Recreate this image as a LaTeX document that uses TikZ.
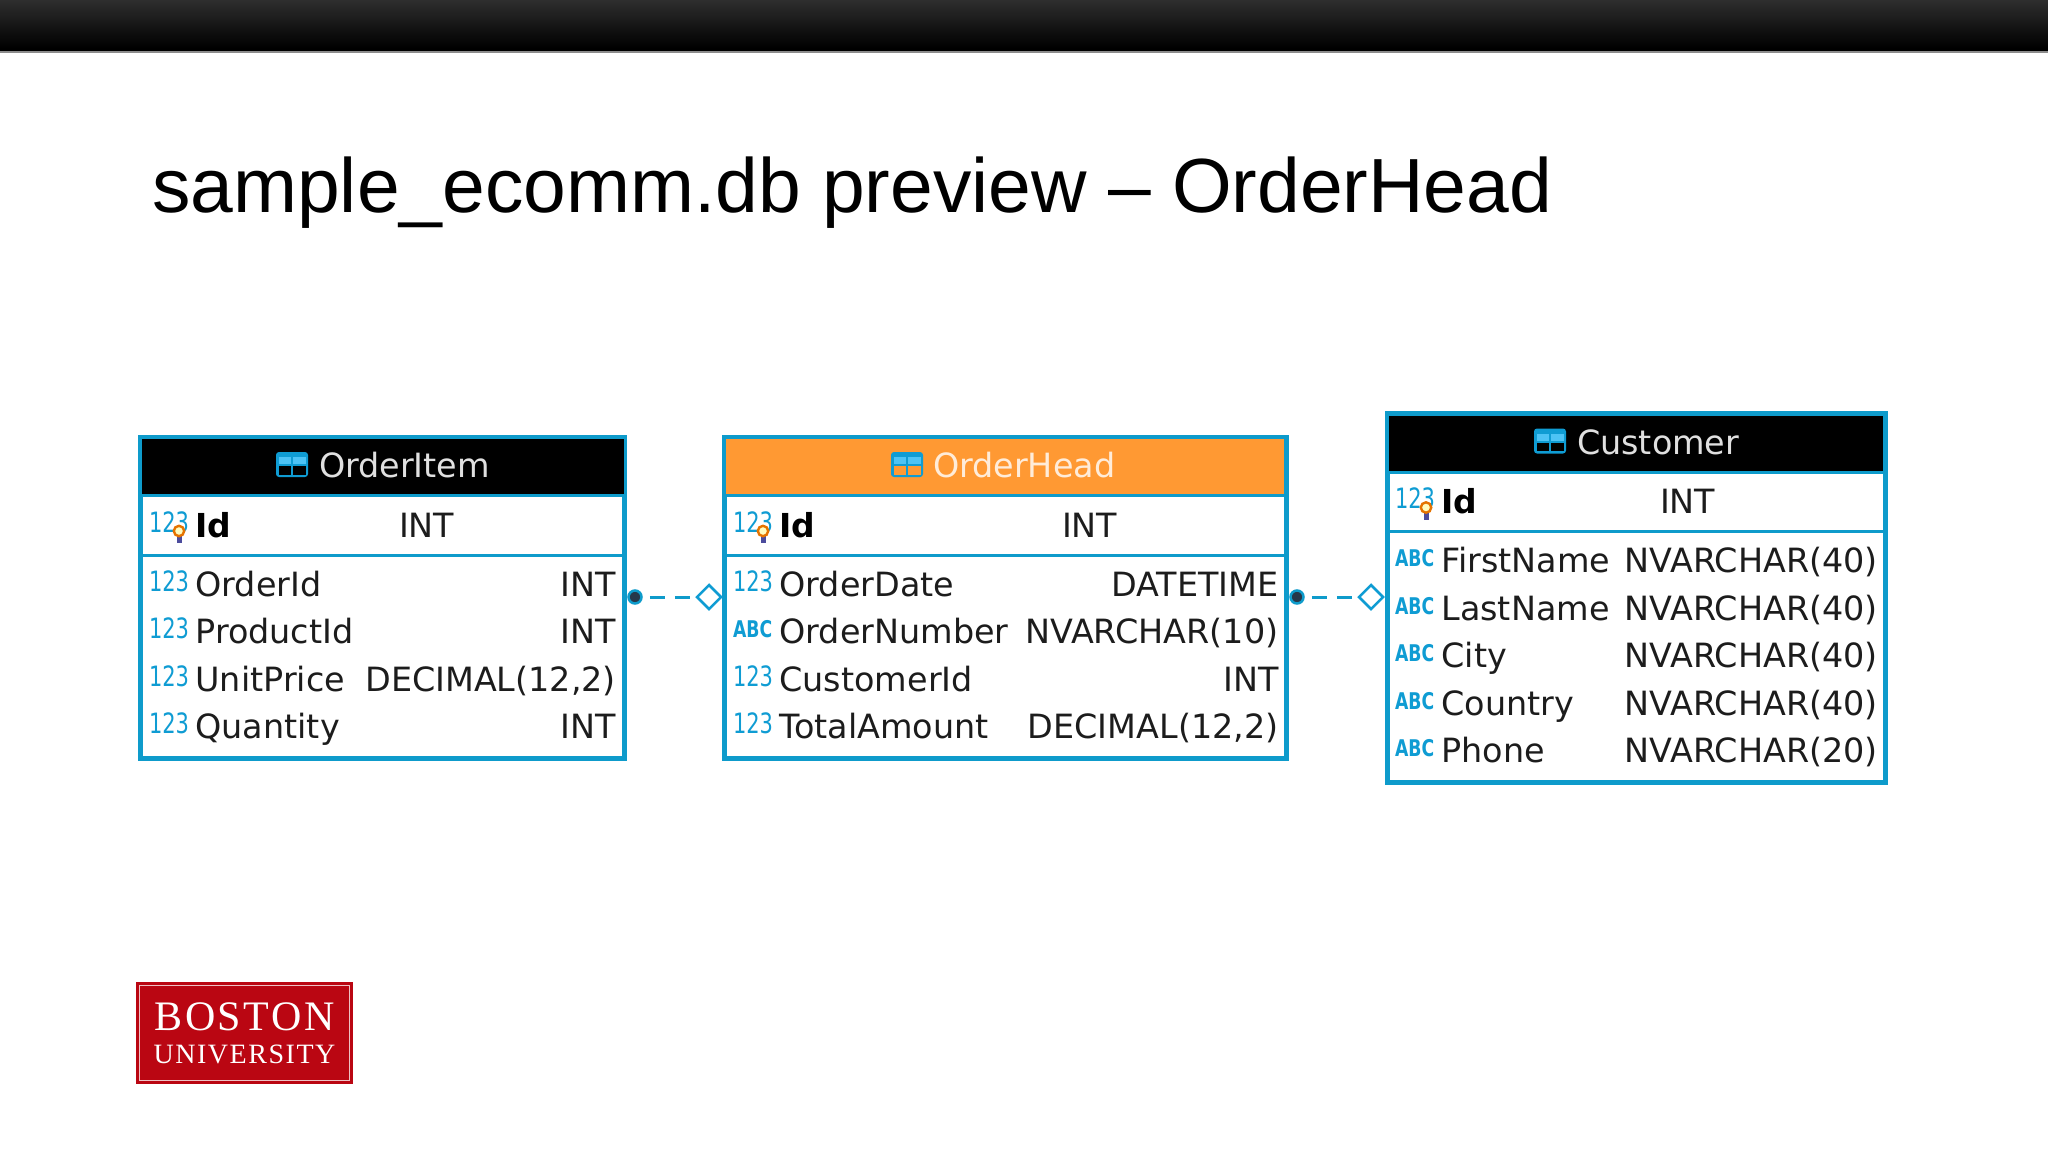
\documentclass[tikz,border=0pt]{standalone}
\usepackage{fontspec}
\usetikzlibrary{shapes.geometric}
\newfontfamily\djv{DejaVu Sans}
\newfontfamily\ttlfont{Liberation Sans}
\newfontfamily\bufontA[LetterSpace=6]{Liberation Serif}
\newfontfamily\bufontB[LetterSpace=5.5]{Liberation Serif}
\definecolor{erblue}{HTML}{0E9BCB}
\definecolor{icoblue}{HTML}{0F9CD3}
\definecolor{panelblue}{HTML}{4DC3F5}
\definecolor{txt}{HTML}{1C1C1C}
\definecolor{hdorange}{HTML}{FF9933}
\definecolor{hdtext}{HTML}{E0E0E0}
\definecolor{burd}{HTML}{BA0612}
\definecolor{dotdark}{HTML}{26384A}
\tikzset{
  cell/.style={inner sep=0pt,outer sep=0pt,text=txt,font=\djv\fontsize{33.4}{33.4}\selectfont},
  namecell/.style={cell,anchor=base west},
  typecell/.style={cell,anchor=base east},
  pktype/.style={cell,anchor=base west},
  pkname/.style={cell,anchor=base west,text=black,font=\djv\bfseries\fontsize{33}{33}\selectfont},
  hdcell/.style={cell,anchor=base west,text=hdtext},
  nicon/.style={inner sep=0pt,outer sep=0pt,anchor=base west,text=icoblue,font=\djv\fontsize{28}{28}\selectfont},
  aicon/.style={inner sep=0pt,outer sep=0pt,anchor=base west,text=icoblue,font=\djv\bfseries\fontsize{23}{23}\selectfont},
  frame/.style={draw=erblue,line width=5pt,fill=white,rectangle,inner sep=0pt,outer sep=0pt,anchor=north west},
  sepline/.style={draw=erblue,line width=3pt},
  relline/.style={draw=erblue,line width=3pt,dash pattern=on 15pt off 10pt,dash phase=18pt},
  dotend/.style={circle,draw=erblue,fill=dotdark,line width=2.5pt,minimum size=13pt,inner sep=0pt},
  diamend/.style={diamond,draw=icoblue,fill=white,line width=2.5pt,minimum width=24pt,minimum height=24pt,inner sep=0pt,outer sep=0pt},
}
% table icon: x, y(top), lower pane colour
\newcommand{\tblicon}[3]{%
  \fill[icoblue,rounded corners=3pt] (#1,#2) rectangle ++(32,25);
  \fill[panelblue] (#1+2.5,#2+5) rectangle ++(12.5,7);
  \fill[panelblue] (#1+17,#2+5) rectangle ++(12.5,7);
  \fill[#3] (#1+2.5,#2+14) rectangle ++(12.5,8.5);
  \fill[#3] (#1+17,#2+14) rectangle ++(12.5,8.5);
}
% key bulb: x,y of the bulb centre
\newcommand{\bulb}[2]{%
  \fill[black!55!blue!70!white] (#1-2.5,#2+4) rectangle ++(5,8);
  \draw[draw=orange!90!black,fill=yellow!25!white,line width=2.4pt] (#1,#2) circle (5.2pt);
}
\newcommand{\numrow}[7]{%
  \node[nicon] (#1i) at (#2,#5-5) {\scalebox{.75}[1]{123}};
  \node[namecell] (#1n) at (#3,#5) {#6};
  \node[typecell] (#1t) at (#4,#5) {#7};
}
\newcommand{\txtrow}[7]{%
  \node[aicon] (#1i) at (#2,#5-6) {\scalebox{.75}[1]{ABC}};
  \node[namecell] (#1n) at (#3,#5) {#6};
  \node[typecell] (#1t) at (#4,#5) {#7};
}
\begin{document}
\begin{tikzpicture}[x=1pt,y=-1pt]
\useasboundingbox (0,0) rectangle (2048,1152);
\fill[white] (0,0) rectangle (2048,1152);
% top bar
\shade[top color=black!82,bottom color=black] (0,0) rectangle (2048,48);
\fill[black] (0,48) rectangle (2048,51);
\fill[black!45] (0,51) rectangle (2048,52.5);
% slide title
\node[inner sep=0pt,anchor=base west,text=black,font=\ttlfont\fontsize{76.8}{76.8}\selectfont] (title) at (152,212) {sample\_ecomm.db preview – OrderHead};

% ---------- OrderItem
\node[frame,minimum width=484.5pt,minimum height=321.5pt] (orderitem) at (140,437) {};
\fill[black] (142,439) rectangle (624,495);
\draw[sepline] (140,495.5) -- (624,495.5);
\draw[sepline] (140,555) -- (624,555);
\tblicon{276}{452}{black}
\node[hdcell] (orderitemH) at (319,477.5) {OrderItem};
\node[nicon] (i1pki) at (149,532) {\scalebox{.75}[1]{123}};
\bulb{179}{531}
\node[pkname] (i1pkn) at (195.5,537) {Id};
\node[pktype] (i1pkt) at (399,537) {INT};
\numrow{i1a}{149}{195.5}{616}{596}{OrderId}{INT}
\numrow{i1b}{149}{195.5}{616}{643.5}{ProductId}{INT}
\numrow{i1c}{149}{195.5}{616}{691}{UnitPrice}{DECIMAL(12,2)}
\numrow{i1d}{149}{195.5}{616}{738.5}{Quantity}{INT}

% ---------- OrderHead
\node[frame,minimum width=562pt,minimum height=321.5pt] (orderhead) at (724,437) {};
\fill[hdorange] (726,439) rectangle (1284,495);
\draw[sepline] (724,495.5) -- (1286,495.5);
\draw[sepline] (724,555) -- (1286,555);
\tblicon{891}{452}{hdorange}
\node[hdcell,text=orange!15!white] (orderheadH) at (933,477.5) {OrderHead};
\node[nicon] (i2pki) at (733,532) {\scalebox{.75}[1]{123}};
\bulb{763}{531}
\node[pkname] (i2pkn) at (779.5,537) {Id};
\node[pktype] (i2pkt) at (1062,537) {INT};
\numrow{i2a}{733}{779.5}{1278.5}{596}{OrderDate}{DATETIME}
\txtrow{i2b}{733}{779.5}{1278.5}{643.5}{OrderNumber}{NVARCHAR(10)}
\numrow{i2c}{733}{779.5}{1278.5}{691}{CustomerId}{INT}
\numrow{i2d}{733}{779.5}{1278.5}{738.5}{TotalAmount}{DECIMAL(12,2)}

% ---------- Customer
\node[frame,minimum width=498pt,minimum height=369pt] (customer) at (1387,413.5) {};
\fill[black] (1389,415.5) rectangle (1883,471.5);
\draw[sepline] (1387,472) -- (1885,472);
\draw[sepline] (1387,531.5) -- (1885,531.5);
\tblicon{1534}{428.5}{black}
\node[hdcell] (customerH) at (1577,454) {Customer};
\node[nicon] (i3pki) at (1395,508.5) {\scalebox{.75}[1]{123}};
\bulb{1426}{507.5}
\node[pkname] (i3pkn) at (1441.5,513.5) {Id};
\node[pktype] (i3pkt) at (1660,513.5) {INT};
\txtrow{i3a}{1395}{1441.5}{1878}{572.5}{FirstName}{NVARCHAR(40)}
\txtrow{i3b}{1395}{1441.5}{1878}{620}{LastName}{NVARCHAR(40)}
\txtrow{i3c}{1395}{1441.5}{1878}{667.5}{City}{NVARCHAR(40)}
\txtrow{i3d}{1395}{1441.5}{1878}{715}{Country}{NVARCHAR(40)}
\txtrow{i3e}{1395}{1441.5}{1878}{762.5}{Phone}{NVARCHAR(20)}

% ---------- connectors
\node[dotend] (d1) at (635,597) {};
\node[diamend] (m1) at (709,597) {};
\draw[relline] (d1) -- (m1);
\node[dotend] (d2) at (1297,597) {};
\node[diamend] (m2) at (1371,597) {};
\draw[relline] (d2) -- (m2);

% ---------- logo
\fill[burd] (136,982) rectangle (353,1084);
\draw[white!75!burd,line width=1pt] (139.5,985.5) rectangle (349.5,1080.5);
\node[inner sep=0pt,anchor=base,text=white,font=\bufontA\fontsize{42}{42}\selectfont] (bu1) at (244.5,1030) {BOSTON};
\node[inner sep=0pt,anchor=base,text=white,font=\bufontB\fontsize{28}{28}\selectfont] (bu2) at (244.5,1063) {UNIVERSITY};
\end{tikzpicture}
\end{document}
